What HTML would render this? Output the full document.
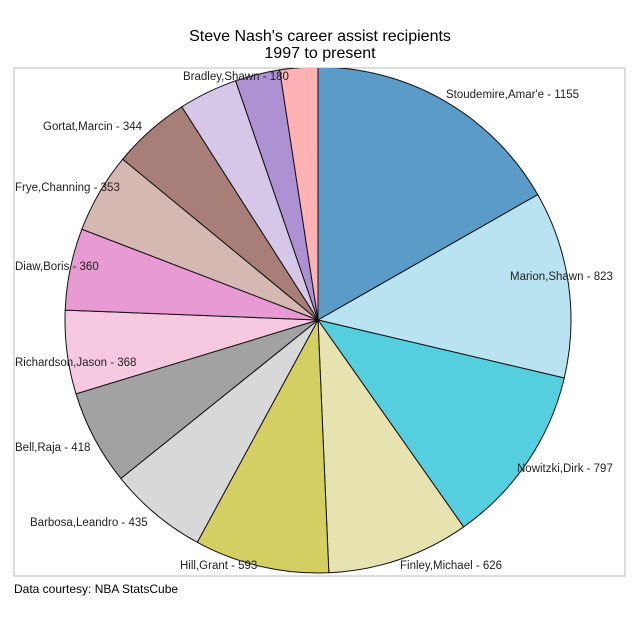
<!DOCTYPE html>
<html><head><meta charset="utf-8"><style>
body{margin:0;background:#fff;width:640px;height:622px;overflow:hidden}
text{font-family:"Liberation Sans",Arial,sans-serif}
</style></head><body>
<svg id="s" width="640" height="622" xmlns="http://www.w3.org/2000/svg">
<defs><clipPath id="c"><rect x="14" y="68" width="611" height="508"/></clipPath></defs>
<rect x="14" y="68" width="611" height="508" fill="#fff" stroke="#bbb"/>
<g id="p" clip-path="url(#c)"></g>
<text x="320" y="41" font-size="16" text-anchor="middle">Steve Nash's career assist recipients</text>
<text x="320" y="58" font-size="16" text-anchor="middle">1997 to present</text>
<g font-size="11.5" fill="#222">
<text x="446" y="98">Stoudemire,Amar'e - 1155</text>
<text x="510" y="280">Marion,Shawn - 823</text>
<text x="517" y="472">Nowitzki,Dirk - 797</text>
<text x="400" y="569">Finley,Michael - 626</text>
<text x="180" y="569">Hill,Grant - 593</text>
<text x="30" y="526">Barbosa,Leandro - 435</text>
<text x="15" y="451">Bell,Raja - 418</text>
<text x="15" y="366">Richardson,Jason - 368</text>
<text x="15" y="270">Diaw,Boris - 360</text>
<text x="15" y="191">Frye,Channing - 353</text>
<text x="43" y="130">Gortat,Marcin - 344</text>
<text x="183" y="80">Bradley,Shawn - 180</text>
</g>
<text x="14" y="593" font-size="12">Data courtesy: NBA StatsCube</text>
</svg>
<script>
var v=[1155,823,797,626,593,435,418,368,360,353,344,260,197,167];
var col=["#5b9bc8","#b9e3f0","#55cfe0","#e6e3b0","#d4cf63","#d8d8d8","#a2a2a2","#f7c9e0","#e89ad3","#d6b8b2","#a87f78","#d6c7e8","#ad91d3","#ffb1b3"];
var T=v.reduce((a,b)=>a+b,0),cx=318,cy=320,r=253,a=0,h="";
for(var i=0;i<v.length;i++){var b=a+v[i]/T*2*Math.PI;
var x1=cx+r*Math.sin(a),y1=cy-r*Math.cos(a),x2=cx+r*Math.sin(b),y2=cy-r*Math.cos(b);
h+='<path d="M'+cx+' '+cy+'L'+x1+' '+y1+'A'+r+' '+r+' 0 '+((b-a)>Math.PI?1:0)+' 1 '+x2+' '+y2+'Z" fill="'+col[i]+'" stroke="#111" stroke-width="1"/>';a=b;}
document.getElementById("p").innerHTML=h;
</script>
</body></html>
